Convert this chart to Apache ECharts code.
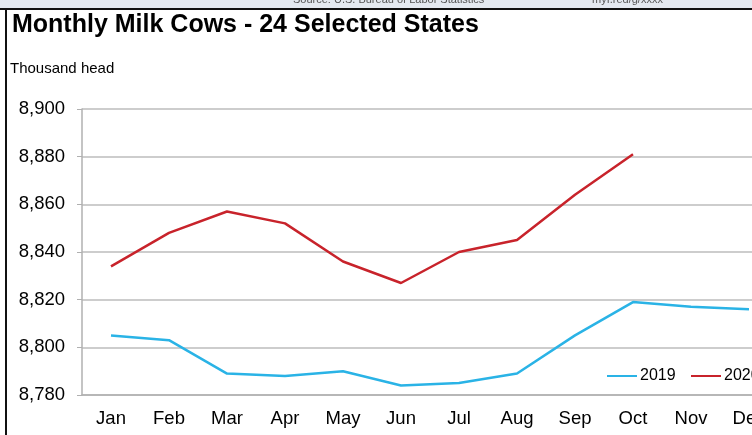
<!DOCTYPE html>
<html>
<head>
<meta charset="utf-8">
<script src="https://cdn.jsdelivr.net/npm/echarts@6/dist/echarts.min.js"></script>
<style>
html,body{margin:0;padding:0;background:#fff;overflow:hidden;width:752px;height:435px;}
#chart{width:800px;height:435px;}
</style>
</head>
<body>
<div id="chart"></div>
<script>
const months = ['Jan','Feb','Mar','Apr','May','Jun','Jul','Aug','Sep','Oct','Nov','Dec'];
const cows2019 = [8805, 8803, 8789, 8788, 8790, 8784, 8785, 8789, 8805, 8819, 8817, 8816];
const cows2020 = [8834, 8848, 8857, 8852, 8836, 8827, 8840, 8845, 8864, 8881];
const yTicks = { min: 8780, max: 8900, interval: 20 };
const titleText = 'Monthly Milk Cows - 24 Selected States';
const unitText = 'Thousand head';
const sourceText = 'Source: U.S. Bureau of Labor Statistics';
const linkText = 'myf.red/g/xxxx';

const chart = echarts.init(document.getElementById('chart'), null, {renderer:'canvas'});
const font = '"Liberation Sans", Arial, sans-serif';
const legendText = { fontSize: 16, color: '#000', fontFamily: font, padding: [0, 0, 0, -2] };
chart.setOption({
  backgroundColor: '#fff',
  animation: false,
  textStyle: { fontFamily: font },
  graphic: [
    { type: 'rect', shape: { x: 0, y: 0, width: 800, height: 9 }, style: { fill: '#e4e9f0' }, z: 10 },
    { type: 'text', x: 293, y: 5, style: { text: sourceText, font: '11px ' + font, fill: '#555', textVerticalAlign: 'bottom' }, z: 11 },
    { type: 'text', x: 592, y: 5, style: { text: linkText, font: '11px ' + font, fill: '#555', textVerticalAlign: 'bottom' }, z: 11 },
    { type: 'rect', shape: { x: 0, y: 8, width: 800, height: 2 }, style: { fill: '#111' }, z: 12 },
    { type: 'rect', shape: { x: 5, y: 8, width: 2, height: 427 }, style: { fill: '#111' }, z: 12 },
    { type: 'text', x: 12, y: 25, style: { text: titleText, font: 'bold 25px ' + font, fill: '#000', textVerticalAlign: 'middle' }, z: 11 },
    { type: 'text', x: 10, y: 68.5, style: { text: unitText, font: '15px ' + font, fill: '#000', textVerticalAlign: 'middle' }, z: 11 }
  ],
  grid: { left: 82, top: 109, bottom: 40, right: 22, containLabel: false },
  legend: [
    { left: 607, top: 368, padding: 0, itemWidth: 30, itemHeight: 2, icon: 'rect', textStyle: legendText, data: ['2019'] },
    { left: 691, top: 368, padding: 0, itemWidth: 30, itemHeight: 2, icon: 'rect', textStyle: legendText, data: ['2020'] }
  ],
  xAxis: {
    type: 'category',
    data: months,
    boundaryGap: true,
    axisLine: { lineStyle: { color: '#b0b0b0', width: 1.5 } },
    axisTick: { alignWithLabel: true, length: 5, lineStyle: { color: '#b0b0b0' } },
    axisLabel: { color: '#000', fontSize: 18.5, margin: 14, interval: 0 }
  },
  yAxis: {
    type: 'value',
    min: yTicks.min, max: yTicks.max, interval: yTicks.interval,
    axisLine: { show: true, lineStyle: { color: '#b0b0b0', width: 1.5 } },
    axisTick: { show: true, length: 5, lineStyle: { color: '#b0b0b0' } },
    axisLabel: { color: '#000', fontSize: 18.5, margin: 17, formatter: v => v.toLocaleString('en-US') },
    splitLine: { lineStyle: { color: '#bdbdbd', width: 1.5 } }
  },
  series: [
    { name: '2019', type: 'line', data: cows2019, symbol: 'none', color: '#2ab3e6', lineStyle: { width: 2.5, color: '#2ab3e6' } },
    { name: '2020', type: 'line', data: cows2020, symbol: 'none', color: '#c8232b', lineStyle: { width: 2.5, color: '#c8232b' } }
  ]
});
</script>
</body>
</html>
